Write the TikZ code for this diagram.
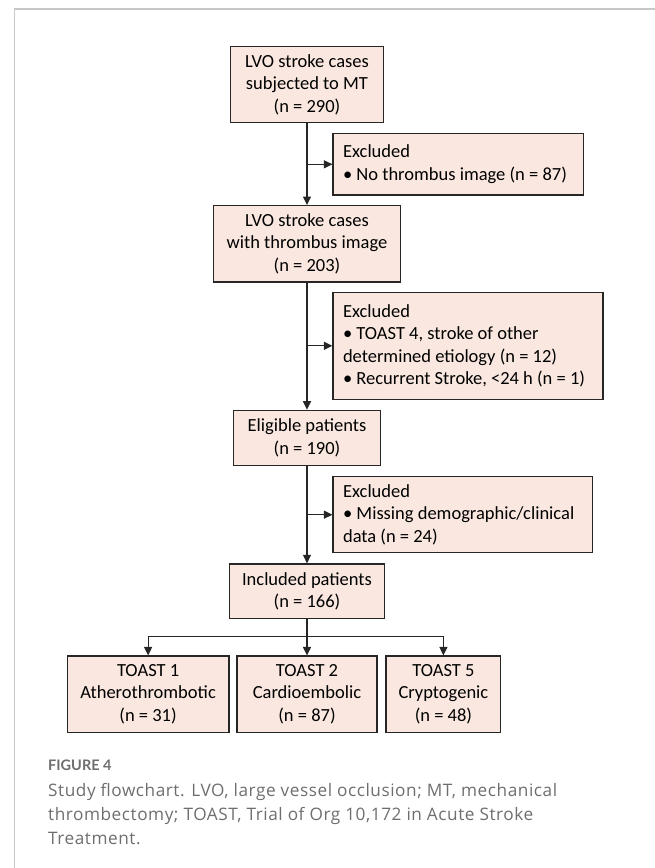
\documentclass[tikz,border=0pt]{standalone}
\usepackage{fontspec}
\setmainfont{Carlito}
\newfontfamily\capfont[LetterSpace=3.2]{Open Sans}
\newfontfamily\figfont{Lato}
\usepackage{tikz}
\usetikzlibrary{arrows.meta}
\definecolor{boxfill}{HTML}{FAE8E0}
\definecolor{boxline}{HTML}{262626}
\definecolor{capgray}{HTML}{6E6E6E}
\definecolor{framegray}{HTML}{C8C8C8}

\begin{document}
\begin{tikzpicture}[x=1pt, y=-1pt,
		stage/.style={draw=boxline, fill=boxfill, line width=1.2pt, align=center, inner sep=0pt, font=\fontsize{18.5}{22.5}\selectfont},
		excl/.style={stage, align=flush left, inner xsep=10pt},
		link/.style={draw=boxline, line width=1.1pt},
		arr/.style={link, -{Triangle[length=8.5pt,width=8pt]}}]
				\useasboundingbox (0,0) rectangle (655,868);
				\draw[framegray, line width=1.5pt] (14.6,868) -- (14.6,9) -- (655,9);
				
				\node[stage, minimum width=153pt, minimum height=76pt] (S1) at (307, 84.7) {LVO stroke cases\\subjected to MT\\(n = 290)};
				\node[excl, text width=230.5pt, minimum height=61.3pt] (X1) at (458.3, 164.3) {Excluded\\• No thrombus image (n = 87)};
				
				\node[stage, minimum width=187pt, minimum height=76.3pt] (S2) at (307, 243.8) {LVO stroke cases\\with thrombus image\\(n = 203)};
				\node[excl, text width=250pt, minimum height=107pt] (X2) at (468, 345.8) {Excluded\\• TOAST 4, stroke of other\\determined etiology (n = 12)\\• Recurrent Stroke, <24 h (n = 1)};
				
				\node[stage, minimum width=146.5pt, minimum height=55pt] (S3) at (307, 437.8) {Eligible patients\\(n = 190)};
				\node[excl, text width=239.3pt, minimum height=76pt] (X3) at (462.7, 514.7) {Excluded\\• Missing demographic/clinical\\data (n = 24)};
				
				\node[stage, minimum width=155.4pt, minimum height=54.7pt] (S4) at (307, 591.3) {Included patients\\(n = 166)};
				
				\node[stage, minimum width=161.7pt, minimum height=76.3pt] (T1) at (148.1, 694.2) {TOAST 1\\Atherothrombotic\\(n = 31)};
				\node[stage, minimum width=140pt, minimum height=76.3pt] (T2) at (307, 694.2) {TOAST 2\\Cardioembolic\\(n = 87)};
				\node[stage, minimum width=114.8pt, minimum height=76.3pt] (T3) at (443.4, 694.2) {TOAST 5\\Cryptogenic\\(n = 48)};
				
				\draw[arr] (S1.south) -- (S2.north);
				\draw[arr] (S1.south |- X1.west) -- (X1.west);
				\draw[arr] (S2.south) -- (S3.north);
				\draw[arr] (S2.south |- X2.west) -- (X2.west);
				\draw[arr] (S3.south) -- (S4.north);
				\draw[arr] (S3.south |- X3.west) -- (X3.west);
				
				\coordinate (B) at (307, 636.7);
				\draw[link] (S4.south) -- (B);
				\draw[arr] (B) -| (T1.north);
				\draw[arr] (B) -- (T2.north);
				\draw[arr] (B) -| (T3.north);
				
				\node[anchor=base west, inner sep=0pt, text=capgray, font=\figfont\bfseries\fontsize{14.5}{17}\selectfont] (F) at (48, 770) {FIGURE 4};
				\node[anchor=north west, inner sep=0pt, align=flush left, text=capgray, font=\capfont\fontsize{17.2}{24}\selectfont] (C) at (48, 783) {Study flowchart. LVO, large vessel occlusion; MT, mechanical\\thrombectomy; TOAST, Trial of Org 10,172 in Acute Stroke\\Treatment.};
\end{tikzpicture}
\end{document}
